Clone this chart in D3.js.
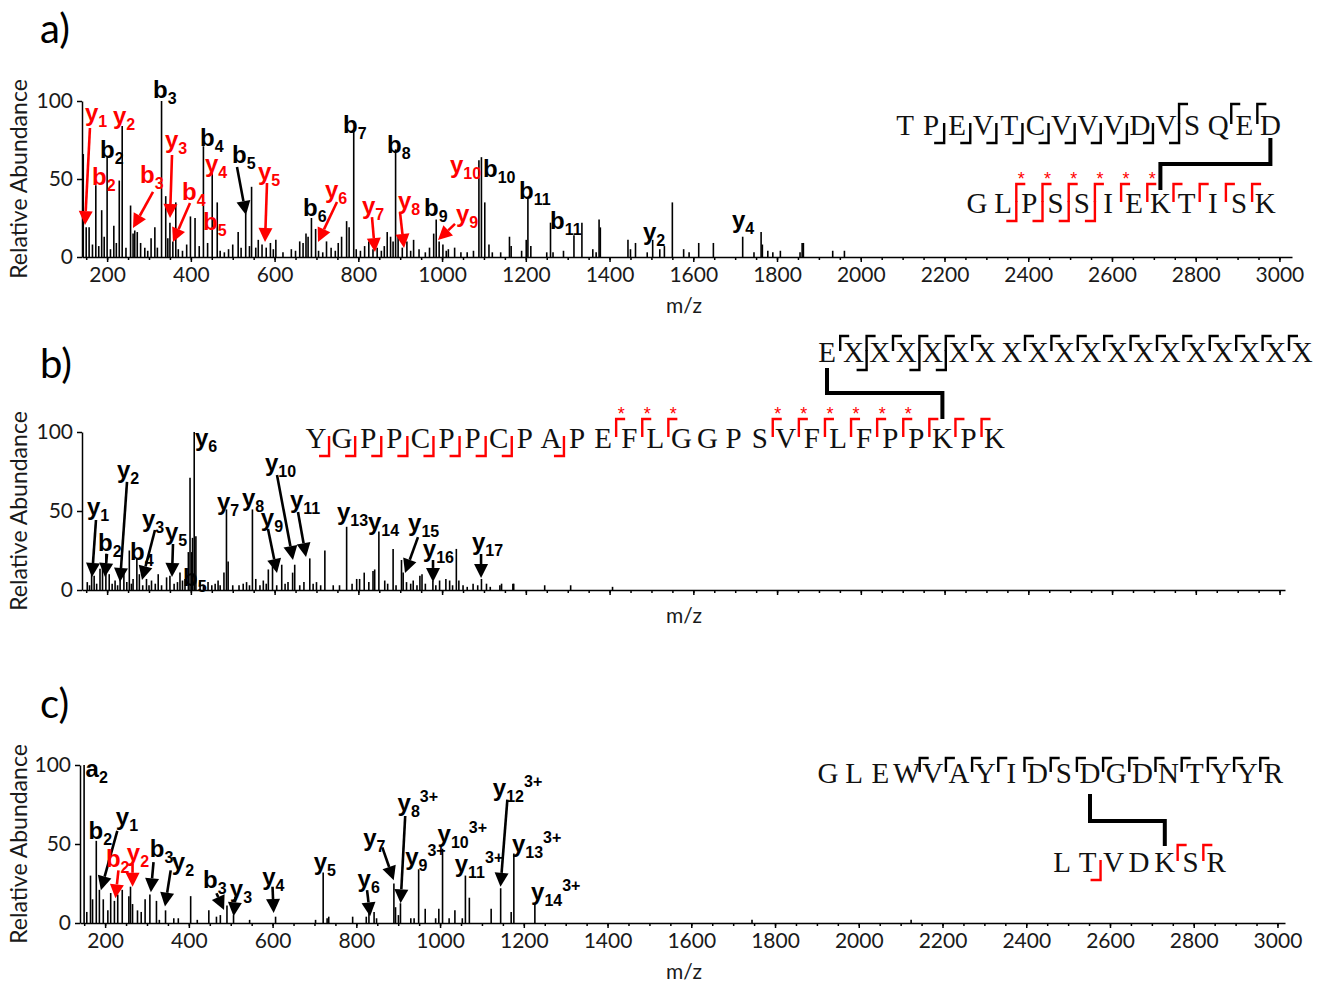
<!DOCTYPE html>
<html>
<head>
<meta charset="utf-8">
<script src="https://cdnjs.cloudflare.com/ajax/libs/d3/7.8.5/d3.min.js"></script>
<style>
  body { margin: 0; background: #fff; }
</style>
</head>
<body>
<div id="chart"></div>
<script>
const W = 1324, H = 984
const RED = "#ff0000"

// ---------- panel a: peaks (m/z, relative abundance) ----------
const peaksAmz = [143,150,157,165,173,180,187,193,200,208,216,222,229,236,245,256,262,266,272,280,290,297,305,314,320,330,340,345,350,357,364,370,380,390,399,410,420,430,440,451,463,470,480,490,500,513,520,531,540,545,555,561,570,580,590,597,603,620,640,650,660,668,675,680,688,698,705,715,724,735,745,752,760,772,778,789,795,805,815,825,835,845,855,862,869,877,883,889,895,905,916,925,932,945,960,970,980,986,993,1002,1010,1015,1030,1045,1060,1075,1088,1094,1102,1112,1120,1140,1161,1165,1190,1201,1205,1212,1250,1259,1265,1290,1315,1334,1360,1368,1375,1378,1444,1450,1462,1490,1503,1520,1531,1550,1577,1590,1613,1648,1718,1745,1762,1765,1778,1790,1808,1855,1860,1863,1933,1961]
const peaksAint = [66,19,19,8,46,7,30,13,64,5,20,9,49,84,6,33,15,17,16,9,6,4,12,19,6,100,39,12,22,10,35,5,4,8,26,25,7,71,9,54,35,4,3,5,8,16,6,28,7,45,6,11,8,6,9,5,11,3,5,4,10,9,15,13,25,18,4,3,10,6,4,9,13,23,19,82,5,4,7,10,5,6,4,7,16,13,10,69,13,6,10,4,11,5,3,6,15,24,10,8,4,5,6,3,3,4,62,64,35,8,3,3,13,7,4,11,38,7,3,22,3,4,14,22,5,3,24,19,11,5,9,3,11,5,7,35,5,3,9,9,13,3,16,8,4,3,4,3,9,9,4,4]

// ion labels: [ion, subscript, superscript, m/z, abundance, colour]
const ionsA = [
  ["b","3","",309.6,101.9,"k"], ["b","2","",183,63.5,"k"], ["b","4","",421.8,71.2,"k"],
  ["b","5","",498.3,60.3,"k"], ["b","6","",667.8,26.3,"k"], ["b","7","",763.4,79.5,"k"],
  ["b","8","",868.5,66.7,"k"], ["b","9","",956.8,26.3,"k"], ["b","10","",1097.7,51.3,"k"],
  ["b","11","",1183.7,37.2,"k"], ["b","11","",1257.8,17.9,"k"], ["y","2","",1479.9,10.9,"k"],
  ["y","4","",1692.4,18.6,"k"],
  ["y","1","",147.2,87.2,"r"], ["y","2","",214,85.3,"r"], ["b","2","",163.9,46.2,"r"],
  ["b","3","",278.5,47.4,"r"], ["y","3","",338.2,69.9,"r"], ["b","4","",378.8,36.5,"r"],
  ["y","4","",433.8,54.5,"r"], ["b","5","",429,17.3,"r"], ["y","5","",560.4,49.4,"r"],
  ["y","6","",720.4,37.8,"r"], ["y","7","",808.7,27.6,"r"], ["y","8","",894.7,30.8,"r"],
  ["y","9","",1033.3,22.4,"r"], ["y","10","",1018.9,53.8,"r"]
]
// arrows: [m/z from, abundance from, m/z to, abundance to, colour]
const arrowsA = [
  [510.2,57.7,531.7,26.9,"k"], [159,82.7,147.2,20.5,"r"], [309.6,41.7,261.8,18.6,"r"],
  [355,65.4,350.2,25,"r"], [398,34.6,357.3,9.6,"r"], [581.9,47.4,577.1,9.6,"r"],
  [749,35.3,703.7,9.6,"r"], [832.6,25.6,839.8,3.2,"r"], [899.5,28.8,909.1,5.8,"r"],
  [1030.9,21.2,990.3,10.9,"r"]
]

// ---------- panel b ----------
const peaksBmz = [152.6,158,163,169,175,183,189,197,205,212,219,225,231,240,247,253,258,262,271,277,285,294,300,306,315,322,330,342,350,360,368,374,380,386,394,398,402,404,408,412,422,430,441,450,458,465,470,479,485,489,500,515,525,533,540,547,555,565,573,580,585,595,605,617,625,632,643,648,660,670,684,692,700,710,720,740,755,772,785,796,803,814,825,835,839,849,863,870,883,890,903,907,915,925,931,940,947,952,960,978,985,994,1009,1018,1025,1034,1040,1050,1060,1074,1085,1094,1106,1115,1138,1142,1169,1171,1245,1307,1407]
const peaksBint = [5,3,12.5,9,4,13.5,15,23,10,4,6,3,7,12,5,25,4,7,20,10,3,7,3,6,4,10,3,8,9,4,5,11,6,7,24,71,24,33,100,34,6,3,5,3,4,6,3,11,51,18,3,3,4,5,3,51,7,3,6,4,13,16,3,16,4,5,11,16,3,5,20,4,5,3,25,3,3,40,4,7,7,11,5,12,13,37,6,4,26,3,19,11,5,4,6,3,9,10,4,6,3,6,7,6,3,26,6,3,2,4,3,7,4,2,3,4,4,4,3,3,2]
const ionsB = [
  ["y","1","",151.9,47.5,"k"], ["b","2","",178.2,24.7,"k"], ["y","2","",223.6,70.9,"k"],
  ["y","3","",283.3,39.9,"k"], ["b","4","",254.6,19,"k"], ["y","5","",338.2,31.6,"k"],
  ["b","5","",381.2,2.5,"k"], ["y","6","",409.9,91.1,"k"], ["y","7","",462.4,50.6,"k"],
  ["y","8","",522,53.2,"k"], ["y","9","",567,40.5,"k"], ["y","10","",577,75.3,"k"],
  ["y","11","",636.7,51.9,"k"], ["y","13","",749,44.3,"k"], ["y","14","",823,38,"k"],
  ["y","15","",918.6,37.3,"k"], ["y","16","",954,20.9,"k"], ["y","17","",1071.4,25.3,"k"]
]
const arrowsB = [
  [173.4,44.3,163.9,8.2,"k"], [199.7,22.8,194.9,8.2,"k"], [247.5,68.4,230.8,5.1,"k"],
  [314.3,38,283.3,6.3,"k"], [357.3,29.1,354.9,8.2,"k"], [584.2,38.6,605.7,10.8,"k"],
  [605.7,72.8,643.9,19,"k"], [655.8,49.4,675,20.9,"k"], [942.4,33.5,911.4,10.8,"k"],
  [978.3,19,978.3,5.1,"k"], [1093,22.8,1093,7.6,"k"]
]

// ---------- panel c ----------
const peaksCmz = [149.8,156.2,165.1,170,178.9,186.3,195.6,206.5,213.3,222.2,230.1,240.9,256.7,260.6,265.5,277.3,286.2,295.5,306.9,322.6,329.5,344.3,364,374.8,404.3,420.1,447.7,465.9,475.2,491,506.7,545.1,607.1,702.6,720.8,730.2,734.1,791.2,823.7,830.1,842.4,848.3,889.7,893.6,900.5,905.4,930.1,938,948.8,964.5,989.4,997,1005.9,1021.6,1035.4,1053.1,1060.5,1069.9,1122,1144.7,1169.8,1176.2,1226.4,1745,2125]
const peaksCint = [100,7,30,15,52,21,15,8,19,14,18,21,17,23,12,8,7,15,18,14,2,8,3,3,17,2,8,4,5,11,5,2,4,2,32,3,4,4,4,7,7,3,25,10,5,12.5,3,3,34,9,3,9,47,3,8,3,30,16,9,22,7,44,12.5,2,2]
const ionsC = [
  ["a","2","",153.3,92.7,"k"], ["b","2","",160.5,53.1,"k"], ["y","1","",225.5,62,"k"],
  ["b","2","",201.8,35.4,"r"], ["y","2","",251.7,39.2,"r"], ["b","3","",306.5,41.7,"k"],
  ["y","2","",359.3,33.3,"k"], ["b","3","",433.9,21.9,"k"], ["y","3","",497.8,16.7,"k"],
  ["y","4","",575.2,24,"k"], ["y","5","",698.1,33.3,"k"], ["y","6","",802.9,22.9,"k"],
  ["y","7","",816.4,49,"k"], ["y","8","3+",898.4,70.8,"k"], ["y","9","3+",916.7,36.5,"k"],
  ["y","10","3+",994.1,51,"k"], ["y","11","3+",1035,32.3,"k"], ["y","12","3+",1126,80.2,"k"],
  ["y","13","3+",1171.6,44.8,"k"], ["y","14","3+",1217.2,14.6,"k"]
]
const arrowsC = [
  [229.1,58.3,189.9,20.8,"k"], [231.8,33.3,224.6,15.6,"r"], [265.5,37.5,265.5,22.9,"r"],
  [315.6,38.5,309.2,19.4,"k"], [356.6,33.3,342.9,10.4,"k"], [465.9,18.8,484.1,8.3,"k"],
  [511.4,16.7,506.8,4.2,"k"], [599.8,22.9,602.5,6.3,"k"], [825.6,20.8,832.9,4.2,"k"],
  [862,47.9,889.3,27.1,"k"], [916.7,67.7,905.7,12.5,"k"], [1160.7,78.1,1144.3,22.9,"k"]
]

// ---------- peptide sequences and fragment cleavages ----------
const seqAtop = "TPEVTCVVVDVSQED"
const seqAbot = "GLPSSIEKTISK"
const cutsAtopB = [1,2,3,4,5,6,7,8,9,10], cutsAtopY = [10,12,13]
const cutsAbotB = [1,2,3,4], cutsAbotY = [1,2,3,4,5,6,7,8,9,10], starsAbot = [1,2,3,4,5,6]

const seqBtop = "EXXXXXXXXXXXXXXXXXX"
const seqBbot = "YGPPCPPCPAPEFLGGPSVFLFPPKPK"
const cutsBtopB = [1,3,4], cutsBtopY = [0,1,2,3,4,5,7,8,9,10,11,12,13,14,15,16,17]
const cutsBbotB = [0,1,2,3,4,5,6,7,9], cutsBbotY = [11,12,13,17,18,19,20,21,22,23,24,25]
const starsBbot = [11,12,13,17,18,19,20,21,22]

const seqCtop = "GLEWVAYIDSDGDNTYYR"
const seqCbot = "LTVDKSR"
const cutsCtopY = [3,4,5,6,7,8,9,10,11,12,13,14,15,16]
const cutsCbotB = [1], cutsCbotY = [4,5]

const svg = d3.select("#chart").append("svg")
  .attr("width", W)
  .attr("height", H)
  .style("background", "#fff")
  .style("font-family", "Lato, 'Open Sans', sans-serif")

const col = c => c === "r" ? RED : "#000"

function drawPanel(p) {
  const x = d3.scaleLinear().domain(p.xDomain).range([p.left, p.right])
  const y = d3.scaleLinear().domain([0, 100]).range([p.bottom, p.top])
  const g = svg.append("g")

  // peaks
  g.append("g").selectAll("line")
    .data(d3.zip(p.mz, p.ab))
    .enter().append("line")
    .attr("x1", d => x(d[0])).attr("x2", d => x(d[0]))
    .attr("y1", y(0)).attr("y2", d => y(d[1]))
    .attr("stroke", "#000").attr("stroke-width", 1.6)

  // x axis, minor then major ticks
  g.append("g").attr("transform", `translate(0,${p.bottom})`)
    .call(d3.axisBottom(x).tickValues(d3.range(150, p.xDomain[1], 50)).tickSize(3).tickSizeOuter(0).tickFormat(""))
    .call(a => a.select(".domain").remove())
  const xAxis = g.append("g").attr("transform", `translate(0,${p.bottom})`)
    .call(d3.axisBottom(x).tickValues(d3.range(200, 3001, 200)).tickSize(5).tickSizeOuter(0).tickPadding(5)
      .tickFormat(p.xLabels ? d3.format("d") : ""))
  xAxis.selectAll("text").style("font-size", "21px").attr("fill", "#1a1a1a")

  const yAxis = g.append("g").attr("transform", `translate(${p.left},0)`)
    .call(d3.axisLeft(y).tickValues([0, 50, 100]).tickSize(5).tickSizeOuter(0).tickPadding(4))
  yAxis.selectAll("text").style("font-size", "21px").attr("fill", "#1a1a1a")
  g.selectAll(".domain, .tick line").attr("stroke", "#000").attr("stroke-width", 1.5)
  g.selectAll(".tick text").style("font-family", "Lato, 'Open Sans', sans-serif")

  // titles
  g.append("text")
    .attr("transform", `translate(27,${(p.top + p.bottom) / 2}) rotate(-90)`)
    .attr("text-anchor", "middle")
    .style("font-size", "23px").attr("fill", "#1a1a1a")
    .text("Relative Abundance")
  g.append("text")
    .attr("x", 684).attr("y", p.mzY).attr("text-anchor", "middle")
    .style("font-size", "21px").attr("fill", "#1a1a1a")
    .text("m/z")
  g.append("text")
    .attr("x", 40).attr("y", p.tagY)
    .style("font-size", "40px").attr("fill", "#000")
    .text(p.tag)

  // arrows
  p.arrows.forEach(a => {
    const x1 = x(a[0]), y1 = y(a[1]), x2 = x(a[2]), y2 = y(a[3])
    const dx = x2 - x1, dy = y2 - y1, L = Math.hypot(dx, dy)
    const ux = dx / L, uy = dy / L, hl = 14, hw = 7
    const bx = x2 - ux * hl, by = y2 - uy * hl
    g.append("line")
      .attr("x1", x1).attr("y1", y1).attr("x2", bx).attr("y2", by)
      .attr("stroke", col(a[4])).attr("stroke-width", 2.6)
    g.append("path")
      .attr("d", `M${x2},${y2}L${bx - uy * hw},${by + ux * hw}L${bx + uy * hw},${by - ux * hw}Z`)
      .attr("fill", col(a[4]))
  })

  // ion labels
  p.ions.forEach(d => {
    const t = g.append("text")
      .attr("x", x(d[3])).attr("y", y(d[4]))
      .attr("fill", col(d[5]))
      .style("font-family", "'Liberation Sans', Arial, sans-serif")
      .style("font-weight", "bold").style("font-size", "24px")
    t.append("tspan").text(d[0])
    t.append("tspan").attr("dy", 6).style("font-size", "16px").text(d[1])
    if (d[2]) t.append("tspan").attr("dy", -15).style("font-size", "16px").text(d[2])
  })
}

function drawSequence(s) {
  const g = svg.append("g")
  const pos = i => s.x0 + i * s.pitch
  const c = s.color
  const top = s.base - (s.hook || 31)
  g.selectAll("text.aa")
    .data(s.letters.split(""))
    .enter().append("text")
    .attr("class", "aa")
    .attr("x", (d, i) => pos(i)).attr("y", s.base)
    .attr("text-anchor", "middle")
    .style("font-family", "'Liberation Serif', 'Times New Roman', serif")
    .style("font-size", "29px")
    .attr("fill", "#111")
    .text(d => d)
  s.b.forEach(i => {
    const m = pos(i + 0.5)
    g.append("path").attr("d", `M${m - 10},${s.base + 8}H${m}V${s.base - 12}`)
      .attr("fill", "none").attr("stroke", c).attr("stroke-width", 2.4)
  })
  s.y.forEach(i => {
    const m = pos(i + 0.5)
    g.append("path").attr("d", `M${m},${s.base - 11}V${top}H${m + 9}`)
      .attr("fill", "none").attr("stroke", c).attr("stroke-width", 2.4)
  })
  ;(s.stars || []).forEach(i => {
    g.append("text").attr("x", pos(i + 0.5) + 5).attr("y", s.base - 28)
      .attr("text-anchor", "middle").attr("fill", RED)
      .style("font-family", "'Liberation Sans', Arial, sans-serif").style("font-size", "18px")
      .text("*")
  })
  return pos
}

function drawLink(topPos, ti, botPos, bi, y0, ym, y1) {
  svg.append("path")
    .attr("d", `M${topPos(ti)},${y0}V${ym}H${botPos(bi)}V${y1}`)
    .attr("fill", "none").attr("stroke", "#000").attr("stroke-width", 4)
}

drawPanel({ tag: "a)", tagY: 43, left: 82, right: 1292, top: 101, bottom: 257, xDomain: [140, 3030],
  xLabels: true, mzY: 313, mz: peaksAmz, ab: peaksAint, ions: ionsA, arrows: arrowsA })
drawPanel({ tag: "b)", tagY: 378, left: 82, right: 1285, top: 432, bottom: 590, xDomain: [140, 3013],
  xLabels: false, mzY: 623, mz: peaksBmz, ab: peaksBint, ions: ionsB, arrows: arrowsB })
drawPanel({ tag: "c)", tagY: 718, left: 80, right: 1285, top: 765, bottom: 923, xDomain: [140, 3018],
  xLabels: true, mzY: 979, mz: peaksCmz, ab: peaksCint, ions: ionsC, arrows: arrowsC })

const aTop = drawSequence({ letters: seqAtop, x0: 905, pitch: 26.1, base: 135, color: "#000", b: cutsAtopB, y: cutsAtopY })
const aBot = drawSequence({ letters: seqAbot, x0: 977, pitch: 26.2, base: 213, color: RED, b: cutsAbotB, y: cutsAbotY, stars: starsAbot, hook: 29 })
drawLink(aTop, 14, aBot, 7, 138, 164, 190)

const bTop = drawSequence({ letters: seqBtop, x0: 827, pitch: 26.4, base: 362, color: "#000", b: cutsBtopB, y: cutsBtopY, hook: 26 })
const bBot = drawSequence({ letters: seqBbot, x0: 316, pitch: 26.1, base: 448, color: RED, b: cutsBbotB, y: cutsBbotY, stars: starsBbot, hook: 29 })
drawLink(bTop, 0, bBot, 24, 368, 393, 419)

const cTop = drawSequence({ letters: seqCtop, x0: 828, pitch: 26.2, base: 783, color: "#000", b: [], y: cutsCtopY, hook: 25 })
const cBot = drawSequence({ letters: seqCbot, x0: 1062, pitch: 25.7, base: 872, color: RED, b: cutsCbotB, y: cutsCbotY, hook: 27 })
drawLink(cTop, 10, cBot, 4, 794, 821, 846)
</script>
</body>
</html>
